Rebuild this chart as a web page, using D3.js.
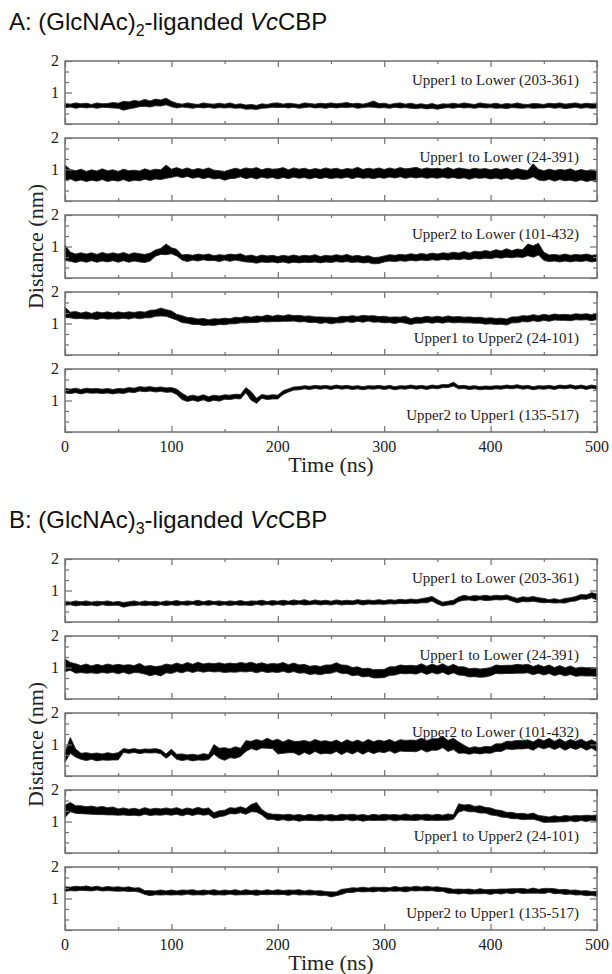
<!DOCTYPE html>
<html>
<head>
<meta charset="utf-8">
<script src="https://cdn.jsdelivr.net/npm/d3@7"></script>
<style>
  html, body { margin: 0; padding: 0; background: #fff; }
  svg { display: block; }
</style>
</head>
<body>
<svg id="chart" width="612" height="974"></svg>
<script>
// sample times (ns), one reading every 5 ns
var times = d3.range(0, 501, 5);

// band: upper / lower edge of the noisy trace (nm)
// --- A: (GlcNAc)2 ---
var a1Hi = [.66,.63,.67,.64,.66,.62,.67,.64,.65,.68, .66,.72,.70,.75,.72,.78,.73,.79,.76,.82,
            .72,.66,.63,.67,.64,.62,.67,.64,.63,.66, .63,.67,.62,.64,.60,.62,.59,.64,.62,.66,
            .67,.63,.66,.64,.62,.67,.65,.63,.66,.64, .67,.64,.66,.68,.64,.66,.63,.67,.73,.65,
            .66,.62,.65,.67,.63,.66,.62,.64,.61,.65, .60,.64,.63,.66,.63,.67,.64,.62,.67,.64,
            .63,.66,.62,.65,.63,.67,.63,.62,.65,.64, .62,.66,.64,.67,.63,.65,.67,.63,.66,.64,.67];
var a1Lo = [.52,.54,.50,.53,.51,.53,.50,.53,.52,.51, .50,.44,.48,.51,.55,.56,.54,.58,.57,.61,
            .55,.51,.54,.52,.50,.53,.51,.53,.50,.52, .51,.52,.50,.51,.47,.48,.46,.50,.51,.53,
            .52,.53,.51,.53,.50,.52,.54,.51,.52,.50, .53,.51,.53,.52,.54,.50,.52,.54,.53,.51,
            .52,.50,.53,.51,.52,.50,.49,.51,.48,.50, .47,.50,.52,.50,.53,.51,.52,.50,.53,.51,
            .52,.50,.51,.49,.52,.51,.50,.52,.50,.51, .51,.53,.50,.52,.49,.51,.53,.50,.52,.50,.51];

var a2Hi = [1.14,1.00,.96,1.01,.94,.99,.95,1.02,.96,.99, .94,1.01,.96,.98,.95,1.02,.97,1.01,.99,1.14,
            1.01,1.06,1.00,1.05,.99,1.03,1.00,1.05,.98,.96, .94,.99,1.04,1.00,1.05,1.02,1.06,.99,1.04,1.01,
            1.02,1.06,.99,1.05,1.01,1.04,.99,1.03,1.00,1.05, 1.01,1.04,.99,1.03,1.01,1.07,1.00,1.04,1.01,1.05,
            1.00,1.05,1.01,1.06,1.02,1.04,1.07,1.01,1.05,1.02, 1.04,1.01,1.06,1.00,1.05,1.02,1.00,1.04,1.01,1.03,
            .99,1.03,1.00,1.04,.98,1.03,.99,.97,1.18,1.01, .96,1.01,.97,1.00,.98,1.02,.95,1.00,.96,.99,.94];
var a2Lo = [.65,.70,.63,.67,.62,.66,.63,.68,.62,.66, .63,.68,.62,.66,.64,.69,.65,.70,.68,.72,
            .75,.79,.74,.78,.72,.76,.71,.75,.70,.72, .66,.71,.72,.77,.71,.75,.70,.76,.72,.75,
            .70,.75,.71,.76,.72,.75,.70,.75,.71,.75, .71,.74,.72,.76,.71,.76,.72,.74,.71,.75,
            .72,.76,.73,.77,.72,.76,.73,.76,.72,.75, .72,.76,.72,.75,.71,.74,.69,.74,.72,.74,
            .70,.73,.69,.73,.68,.72,.68,.70,.77,.67, .64,.69,.63,.68,.64,.66,.62,.67,.62,.65,.60];

var a3Hi = [1.04,.82,.76,.80,.76,.80,.75,.81,.76,.80, .76,.81,.75,.80,.77,.75,.79,.89,.94,1.08,
            .96,.91,.73,.75,.72,.76,.73,.76,.71,.74, .72,.76,.74,.77,.70,.73,.68,.73,.70,.72,
            .68,.72,.69,.73,.69,.72,.70,.74,.68,.72, .70,.74,.71,.75,.69,.72,.68,.71,.65,.66,
            .70,.74,.72,.75,.73,.77,.74,.78,.75,.79, .76,.80,.78,.82,.79,.84,.79,.85,.83,.87,
            .84,.90,.86,.93,.87,.92,.90,1.08,1.02,1.10, .82,.73,.75,.72,.76,.72,.75,.73,.76,.72,.74];
var a3Lo = [.56,.53,.49,.54,.50,.55,.50,.54,.51,.55, .50,.55,.50,.54,.51,.49,.54,.69,.75,.74,
            .77,.70,.57,.52,.57,.54,.58,.55,.56,.52, .57,.53,.57,.54,.51,.50,.47,.51,.49,.51,
            .48,.51,.47,.50,.48,.50,.49,.51,.48,.51, .49,.52,.50,.52,.49,.51,.48,.49,.45,.46,
            .51,.54,.52,.55,.53,.56,.54,.57,.55,.58, .56,.59,.57,.60,.58,.61,.58,.62,.60,.63,
            .61,.65,.63,.66,.64,.67,.65,.71,.66,.73, .56,.52,.54,.51,.54,.51,.54,.52,.55,.51,.53];

var a4Hi = [1.52,1.36,1.38,1.33,1.37,1.32,1.37,1.34,1.37,1.33, 1.37,1.34,1.37,1.35,1.38,1.36,1.42,1.43,1.49,1.44,
            1.40,1.29,1.25,1.19,1.18,1.14,1.16,1.12,1.15,1.14, 1.17,1.15,1.20,1.18,1.23,1.20,1.24,1.22,1.27,1.23,
            1.27,1.24,1.28,1.25,1.26,1.23,1.24,1.21,1.21,1.20, 1.20,1.18,1.23,1.22,1.25,1.22,1.26,1.24,1.25,1.22,
            1.23,1.20,1.21,1.20,1.23,1.15,1.20,1.19,1.23,1.20, 1.23,1.20,1.24,1.21,1.22,1.20,1.21,1.19,1.20,1.17,
            1.18,1.16,1.17,1.14,1.21,1.21,1.25,1.24,1.28,1.25, 1.29,1.26,1.30,1.28,1.29,1.27,1.31,1.29,1.31,1.28,1.33];
var a4Lo = [1.19,1.18,1.15,1.16,1.14,1.15,1.13,1.17,1.14,1.15, 1.14,1.17,1.14,1.18,1.15,1.18,1.18,1.23,1.24,1.23,
            1.17,1.11,1.03,1.01,.97,.97,.94,.95,.94,.97, .96,.99,.99,1.02,1.02,1.03,1.03,1.06,1.05,1.06,
            1.06,1.07,1.07,1.08,1.05,1.06,1.03,1.04,1.00,1.03, .99,1.02,1.02,1.06,1.03,1.07,1.04,1.08,1.04,1.05,
            1.02,1.03,1.00,1.04,1.01,.97,1.01,1.01,1.04,1.01, 1.04,1.01,1.05,1.02,1.03,1.02,1.02,1.01,1.01,.98,
            .99,.97,.98,.95,1.02,1.02,1.06,1.05,1.09,1.06, 1.10,1.07,1.11,1.10,1.10,1.09,1.12,1.11,1.12,1.09,1.13];

var a5Hi = [1.38,1.36,1.39,1.35,1.39,1.37,1.38,1.36,1.38,1.35, 1.38,1.37,1.41,1.39,1.44,1.42,1.44,1.41,1.43,1.40,
            1.41,1.36,1.23,1.13,1.17,1.13,1.18,1.12,1.17,1.14, 1.18,1.17,1.20,1.19,1.41,1.28,1.07,1.19,1.16,1.18,
            1.17,1.31,1.37,1.43,1.44,1.47,1.45,1.48,1.46,1.48, 1.45,1.49,1.46,1.48,1.45,1.47,1.44,1.47,1.46,1.48,
            1.45,1.48,1.44,1.47,1.46,1.49,1.46,1.48,1.45,1.49, 1.47,1.51,1.50,1.58,1.47,1.48,1.45,1.47,1.44,1.46,
            1.45,1.47,1.46,1.49,1.47,1.50,1.46,1.48,1.44,1.47, 1.46,1.48,1.45,1.49,1.47,1.50,1.46,1.49,1.45,1.49,1.46];
var a5Lo = [1.24,1.22,1.25,1.21,1.25,1.23,1.24,1.22,1.24,1.21, 1.24,1.22,1.27,1.25,1.30,1.28,1.30,1.27,1.29,1.26,
            1.27,1.19,1.03,.97,1.01,.97,1.02,.96,1.01,.98, 1.04,1.03,1.06,1.05,1.25,1.01,.91,1.07,1.03,1.05,
            1.05,1.19,1.27,1.33,1.34,1.37,1.35,1.38,1.36,1.38, 1.35,1.39,1.36,1.38,1.35,1.37,1.34,1.37,1.36,1.38,
            1.35,1.38,1.34,1.37,1.36,1.39,1.36,1.38,1.35,1.39, 1.37,1.41,1.41,1.46,1.37,1.38,1.35,1.37,1.34,1.36,
            1.35,1.37,1.36,1.39,1.37,1.40,1.36,1.38,1.34,1.37, 1.36,1.38,1.35,1.39,1.37,1.40,1.36,1.39,1.35,1.39,1.36];

// --- B: (GlcNAc)3 ---
var b1Hi = [.66,.63,.67,.64,.67,.63,.66,.64,.67,.63, .65,.62,.64,.67,.63,.67,.64,.66,.63,.67,
            .65,.68,.64,.67,.65,.69,.64,.68,.65,.67, .64,.67,.65,.68,.64,.67,.66,.69,.65,.68,
            .66,.69,.66,.70,.67,.71,.66,.70,.67,.69, .66,.70,.67,.69,.67,.71,.68,.70,.68,.71,
            .68,.71,.69,.72,.70,.73,.71,.74,.77,.81, .71,.63,.66,.69,.79,.85,.81,.84,.82,.85,
            .82,.85,.83,.86,.80,.75,.80,.78,.81,.77, .75,.71,.74,.70,.75,.77,.81,.87,.86,.93,.89];
var b1Lo = [.53,.55,.51,.54,.52,.54,.51,.55,.52,.53, .53,.47,.51,.52,.54,.52,.54,.51,.55,.52,
            .55,.52,.55,.53,.56,.52,.55,.53,.56,.52, .55,.52,.55,.53,.54,.52,.56,.53,.56,.53,
            .56,.53,.56,.54,.57,.54,.55,.57,.54,.56, .54,.57,.54,.56,.55,.58,.54,.57,.56,.57,
            .56,.58,.57,.59,.58,.60,.59,.61,.61,.67, .57,.51,.54,.55,.65,.69,.70,.67,.71,.68,
            .69,.71,.70,.72,.67,.61,.65,.64,.66,.63, .61,.62,.60,.61,.60,.65,.67,.73,.72,.77,.70];

var b2Hi = [1.27,1.16,1.12,1.06,1.11,1.05,1.10,1.06,1.11,1.07, 1.10,1.07,1.09,1.06,1.13,1.04,1.06,1.03,1.05,1.11,
            1.08,1.14,1.09,1.16,1.10,1.17,1.11,1.14,1.12,1.15, 1.11,1.14,1.12,1.16,1.13,1.17,1.11,1.15,1.10,1.13,
            1.11,1.16,1.09,1.14,1.08,1.10,1.04,1.06,1.03,1.08, 1.08,1.15,1.08,1.07,1.00,1.02,.96,.98,.93,.94,
            .94,1.02,1.02,1.08,1.06,1.07,1.05,1.12,1.04,1.11, 1.05,1.12,1.03,1.10,1.02,1.02,.96,.98,.95,.97,
            1.00,1.08,1.06,1.07,1.07,1.10,1.08,1.10,1.03,1.09, 1.02,1.08,1.00,1.06,.99,1.05,.98,1.01,.99,1.00,.98];
var b2Lo = [.87,.91,.82,.84,.82,.83,.81,.84,.82,.85, .80,.85,.79,.84,.83,.79,.74,.78,.73,.83,
            .81,.87,.83,.89,.84,.89,.85,.88,.86,.87, .84,.86,.85,.87,.86,.88,.83,.88,.84,.86,
            .84,.88,.83,.87,.82,.83,.78,.80,.77,.81, .82,.87,.81,.81,.74,.76,.70,.72,.67,.67,
            .68,.75,.76,.81,.80,.81,.79,.85,.78,.84, .79,.85,.77,.83,.76,.75,.70,.71,.69,.70,
            .74,.81,.80,.81,.81,.82,.82,.83,.77,.82, .76,.81,.74,.79,.73,.78,.72,.74,.73,.73,.72];

var b3Hi = [.76,1.22,.86,.72,.74,.71,.73,.70,.74,.71, .74,.87,.84,.87,.83,.86,.85,.87,.83,.70,
            .85,.69,.70,.67,.69,.66,.71,.68,1.00,.88, .90,.86,.93,.88,1.12,1.10,1.16,1.11,1.20,1.12,
            1.17,1.08,1.16,1.10,1.10,1.13,1.08,1.16,1.10,1.12, 1.08,1.14,1.06,1.15,1.08,1.14,1.07,1.16,1.09,1.14,
            1.10,1.16,1.08,1.15,1.13,1.14,1.13,1.20,1.12,1.18, 1.18,1.26,1.13,1.20,1.08,.98,.89,.93,.90,.94,
            .93,1.02,1.02,1.10,1.10,1.13,1.12,1.15,1.08,1.18, 1.12,1.20,1.10,1.18,1.08,1.16,1.10,1.17,1.08,1.15,1.06];
var b3Lo = [.44,.72,.60,.53,.49,.53,.48,.51,.50,.51, .51,.75,.72,.75,.71,.74,.73,.74,.71,.56,
            .69,.53,.49,.52,.48,.51,.50,.52,.70,.56, .50,.58,.56,.62,.78,.87,.82,.89,.88,.87,
            .70,.72,.74,.74,.66,.75,.68,.78,.70,.72, .70,.78,.68,.77,.70,.78,.69,.78,.71,.77,
            .74,.80,.72,.79,.78,.78,.77,.84,.76,.82, .82,.90,.78,.84,.72,.73,.69,.73,.70,.73,
            .72,.78,.78,.86,.84,.86,.86,.88,.82,.92, .86,.92,.84,.91,.82,.90,.84,.91,.82,.89,.78];

var b4Hi = [1.52,1.60,1.50,1.50,1.47,1.49,1.45,1.48,1.44,1.46, 1.40,1.43,1.39,1.42,1.38,1.44,1.39,1.42,1.40,1.43,
            1.40,1.44,1.38,1.43,1.39,1.45,1.40,1.43,1.28,1.34, 1.36,1.44,1.42,1.47,1.41,1.54,1.60,1.38,1.27,1.23,
            1.23,1.21,1.23,1.20,1.22,1.19,1.23,1.19,1.22,1.20, 1.22,1.19,1.23,1.21,1.23,1.20,1.22,1.19,1.23,1.20,
            1.23,1.21,1.22,1.20,1.24,1.20,1.23,1.21,1.23,1.20, 1.23,1.20,1.24,1.21,1.56,1.52,1.54,1.48,1.50,1.45,
            1.43,1.37,1.35,1.29,1.29,1.25,1.26,1.23,1.27,1.19, 1.17,1.14,1.18,1.15,1.19,1.17,1.19,1.18,1.20,1.19,1.21];
var b4Lo = [1.13,1.31,1.26,1.25,1.24,1.23,1.22,1.22,1.21,1.21, 1.20,1.21,1.19,1.20,1.18,1.23,1.19,1.21,1.20,1.22,
            1.20,1.23,1.18,1.23,1.19,1.24,1.20,1.22,1.10,1.15, 1.18,1.25,1.24,1.28,1.23,1.31,1.30,1.21,1.07,1.07,
            1.03,1.06,1.02,1.05,1.01,1.04,1.03,1.03,1.02,1.05, 1.02,1.03,1.03,1.06,1.02,1.05,1.01,1.04,1.03,1.04,
            1.03,1.06,1.02,1.05,1.04,1.04,1.03,1.06,1.03,1.04, 1.03,1.04,1.04,1.07,1.30,1.35,1.31,1.31,1.27,1.27,
            1.21,1.19,1.14,1.13,1.09,1.09,1.06,1.07,1.07,1.03, .97,.98,.98,.99,.99,1.02,.99,1.03,1.00,1.04,1.01];

var b5Hi = [1.37,1.36,1.39,1.37,1.40,1.36,1.39,1.35,1.38,1.36, 1.37,1.35,1.37,1.33,1.34,1.25,1.25,1.24,1.27,1.24,
            1.27,1.24,1.27,1.26,1.28,1.24,1.27,1.25,1.28,1.24, 1.27,1.25,1.28,1.24,1.28,1.25,1.27,1.24,1.28,1.25,
            1.28,1.25,1.27,1.26,1.28,1.24,1.27,1.24,1.25,1.22, 1.21,1.21,1.29,1.31,1.34,1.33,1.36,1.33,1.36,1.35,
            1.36,1.34,1.38,1.35,1.37,1.36,1.39,1.36,1.39,1.36, 1.37,1.34,1.33,1.29,1.30,1.29,1.30,1.27,1.31,1.28,
            1.29,1.29,1.30,1.30,1.31,1.31,1.32,1.29,1.33,1.29, 1.32,1.32,1.31,1.28,1.29,1.26,1.27,1.24,1.25,1.22,1.23];
var b5Lo = [1.23,1.25,1.24,1.26,1.25,1.24,1.27,1.24,1.25,1.24, 1.23,1.24,1.22,1.23,1.20,1.13,1.09,1.12,1.11,1.12,
            1.11,1.12,1.11,1.14,1.11,1.12,1.11,1.14,1.11,1.12, 1.11,1.14,1.11,1.12,1.12,1.13,1.10,1.13,1.12,1.13,
            1.12,1.13,1.10,1.14,1.11,1.12,1.11,1.12,1.09,1.10, 1.05,1.09,1.13,1.19,1.19,1.22,1.21,1.22,1.21,1.24,
            1.21,1.24,1.23,1.24,1.21,1.25,1.24,1.25,1.24,1.25, 1.22,1.23,1.17,1.17,1.14,1.17,1.14,1.15,1.15,1.16,
            1.13,1.17,1.14,1.18,1.15,1.19,1.16,1.17,1.17,1.17, 1.16,1.20,1.15,1.16,1.13,1.14,1.11,1.12,1.09,1.10,1.07];

var pairLabels = ["Upper1 to Lower (203-361)", "Upper1 to Lower (24-391)", "Upper2 to Lower (101-432)",
                  "Upper1 to Upper2 (24-101)", "Upper2 to Upper1 (135-517)"];
var xTicks = [0, 100, 200, 300, 400, 500];
var xMinor = [50, 150, 250, 350, 450];
var yTicks = [0, 1, 2];
var yMinor = [1/3, 2/3, 4/3, 5/3];

var groups = [
  { title: "A", sub: "2", top: 61, series: [[a1Lo, a1Hi], [a2Lo, a2Hi], [a3Lo, a3Hi], [a4Lo, a4Hi], [a5Lo, a5Hi]] },
  { title: "B", sub: "3", top: 559, series: [[b1Lo, b1Hi], [b2Lo, b2Hi], [b3Lo, b3Hi], [b4Lo, b4Hi], [b5Lo, b5Hi]] }
];

var svg = d3.select("#chart");
var serif = "'Liberation Serif', 'DejaVu Serif', serif";
var sans = "'Liberation Sans', Arial, sans-serif";
var frameCol = "#707070";
var left = 65, right = 597, ph = 63, pitch = 77;

var x = d3.scaleLinear().domain([0, 500]).range([left, right]);

for (let grp of groups) {

  // panel heading
  var t = svg.append("text")
    .attr("x", 9).attr("y", grp.top - 31)
    .attr("font-family", sans).attr("font-size", 24).attr("fill", "#111");
  t.append("tspan").text(grp.title + ": (GlcNAc)");
  t.append("tspan").attr("font-size", 16).attr("dy", 6).text(grp.sub);
  t.append("tspan").attr("dy", -6).text("-liganded ");
  t.append("tspan").attr("font-style", "italic").text("Vc");
  t.append("tspan").text("CBP");

  grp.series.forEach(function(s, i) {
    var top = grp.top + i * pitch;
    var y = d3.scaleLinear().domain([0, 2]).range([top + ph, top]);
    var g = svg.append("g");

    var band = d3.area()
      .x(function(d, k){ return x(times[k]); })
      .y0(function(d, k){ return y(s[0][k]); })
      .y1(function(d, k){ return y(s[1][k]); });

    g.append("path")
      .datum(times)
      .attr("d", band)
      .attr("fill", "#000")
      .attr("stroke", "#222")
      .attr("stroke-width", 0.9);

    // ticks, all pointing inward
    var bottomAx = d3.axisBottom(x).tickValues(xTicks).tickSize(-6).tickFormat("");
    var bottomMin = d3.axisBottom(x).tickValues(xMinor).tickSize(-3).tickFormat("");
    var topAx = d3.axisTop(x).tickValues(xTicks).tickSize(-6).tickFormat("");
    var topMin = d3.axisTop(x).tickValues(xMinor).tickSize(-3).tickFormat("");
    var leftAx = d3.axisLeft(y).tickValues(yTicks).tickSize(-7).tickFormat("");
    var leftMin = d3.axisLeft(y).tickValues(yMinor).tickSize(-4).tickFormat("");
    var rightAx = d3.axisRight(y).tickValues(yTicks).tickSize(-7).tickFormat("");
    var rightMin = d3.axisRight(y).tickValues(yMinor).tickSize(-4).tickFormat("");

    [[bottomAx, 0, top + ph], [bottomMin, 0, top + ph], [topAx, 0, top], [topMin, 0, top],
     [leftAx, left, 0], [leftMin, left, 0], [rightAx, right, 0], [rightMin, right, 0]].forEach(function(a) {
      var ag = g.append("g").attr("transform", "translate(" + a[1] + "," + a[2] + ")").call(a[0]);
      ag.select(".domain").remove();
      ag.selectAll("line").attr("stroke", frameCol).attr("stroke-width", 1.2);
    });

    g.append("rect")
      .attr("x", left).attr("y", top)
      .attr("width", right - left).attr("height", ph)
      .attr("fill", "none").attr("stroke", frameCol).attr("stroke-width", 1.5);

    // y tick labels
    g.selectAll(".ylab").data([1, 2]).enter().append("text")
      .attr("x", left - 6).attr("y", function(d){ return y(d) + 5; })
      .attr("text-anchor", "end")
      .attr("font-family", serif).attr("font-size", 16).attr("fill", "#222")
      .text(function(d){ return d; });

    // pair label
    g.append("text")
      .attr("x", right - 18)
      .attr("y", i < 3 ? top + 24 : top + ph - 12)
      .attr("text-anchor", "end")
      .attr("font-family", serif).attr("font-size", 15).attr("fill", "#222")
      .text(pairLabels[i]);

    if (i == 4) {
      g.selectAll(".xlab").data(xTicks).enter().append("text")
        .attr("x", function(d){ return x(d); })
        .attr("y", top + ph + 20)
        .attr("text-anchor", "middle")
        .attr("font-family", serif).attr("font-size", 16).attr("fill", "#222")
        .text(function(d){ return d; });

      svg.append("text")
        .attr("x", (left + right) / 2).attr("y", top + ph + 40)
        .attr("text-anchor", "middle")
        .attr("font-family", serif).attr("font-size", 22).attr("fill", "#222")
        .text("Time (ns)");
    }
  });

  var midY = grp.top + (4 * pitch + ph) / 2;
  svg.append("text")
    .attr("transform", "translate(43," + midY + ") rotate(-90)")
    .attr("text-anchor", "middle")
    .attr("font-family", serif).attr("font-size", 22).attr("fill", "#222")
    .text("Distance (nm)");
}
</script>
</body>
</html>
